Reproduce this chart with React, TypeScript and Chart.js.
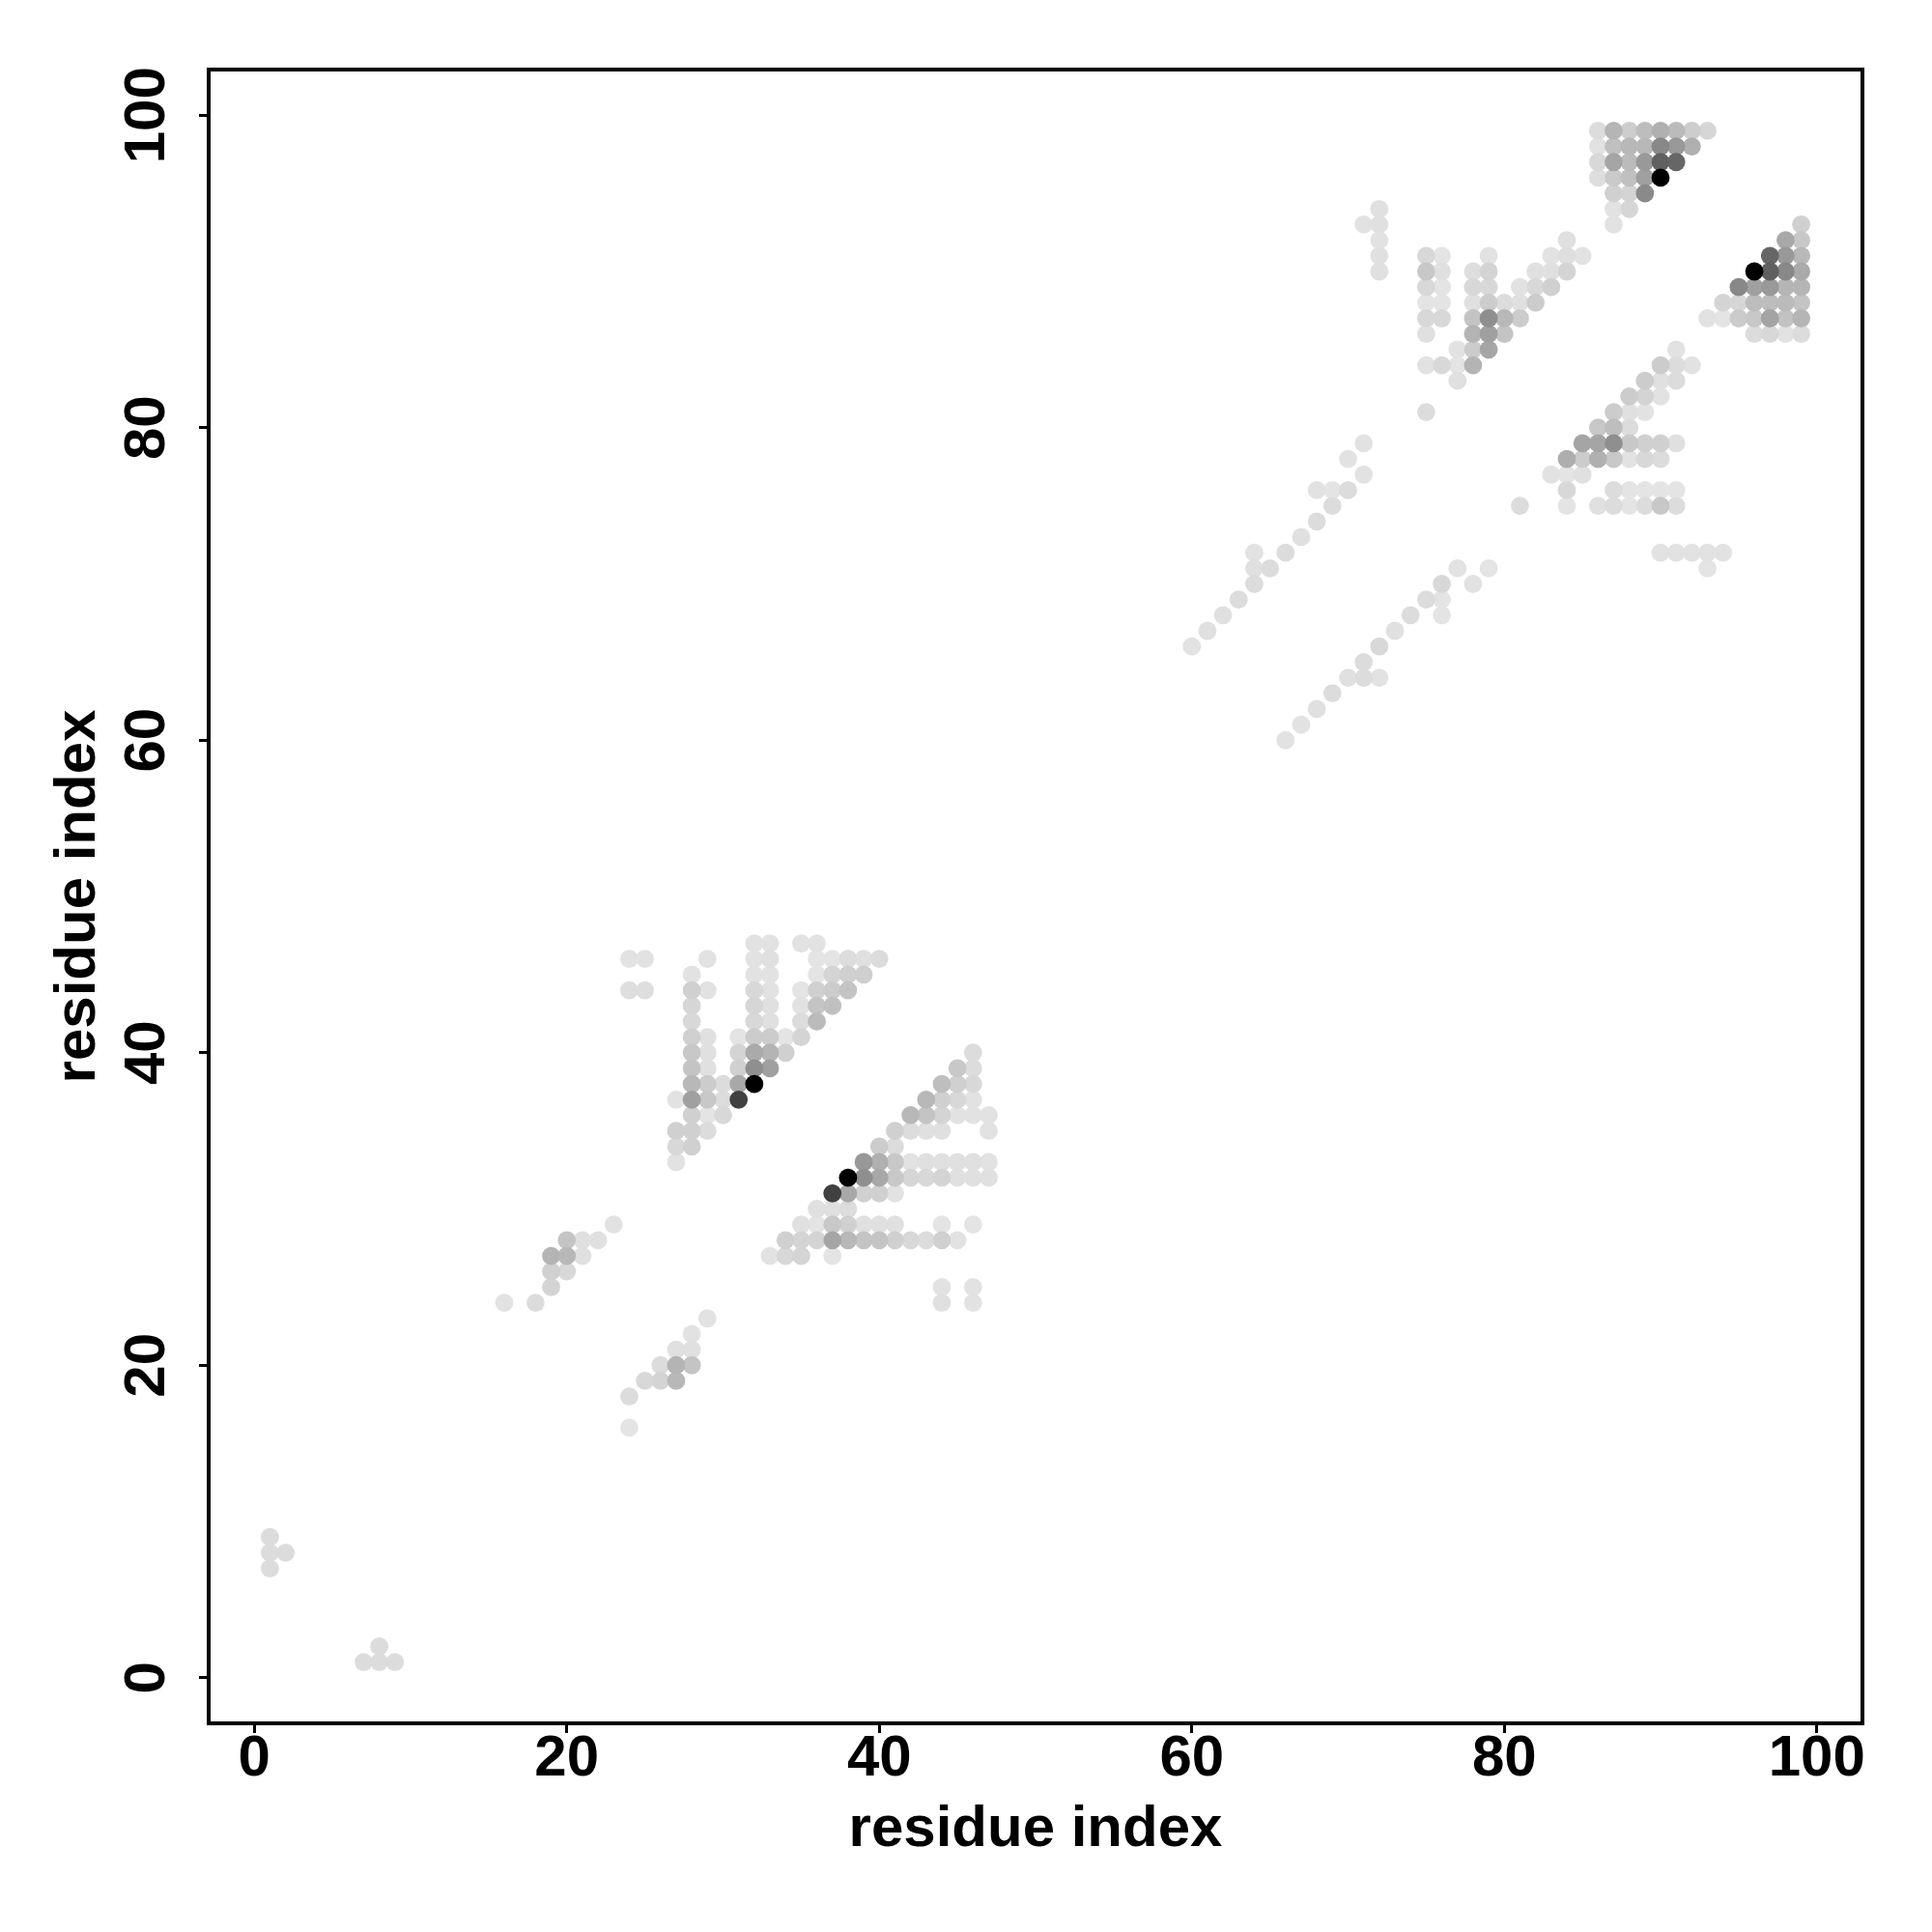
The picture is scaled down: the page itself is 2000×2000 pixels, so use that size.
import React, { useEffect, useRef } from "react";
import { Chart, registerables } from "chart.js";

Chart.register(...registerables);

const xTickValues = [0, 20, 40, 60, 80, 100];
const yTickValues = [0, 20, 40, 60, 80, 100];
const xTitle = "residue index";
const yTitle = "residue index";

// Each cluster: residue x, residue y, gray level of the dot.
const cornerX = [1, 1, 2, 1, 8, 7, 8, 9];
const cornerY = [9, 8, 8, 7, 2, 1, 1, 1];
const cornerG = [0xdc, 0xdc, 0xdc, 0xdc, 0xdc, 0xdc, 0xdc, 0xdc];

const smallUpperX = [23, 20, 21, 22, 19, 20, 21, 19, 20, 19, 16, 18];
const smallUpperY = [29, 28, 28, 28, 27, 27, 27, 26, 26, 25, 24, 24];
const smallUpperG = [0xe2, 0xc4, 0xe0, 0xe0, 0xb4, 0xb8, 0xe0, 0xd0, 0xd8, 0xd4, 0xe2, 0xdc];

const smallLowerX = [29, 28, 27, 28, 26, 27, 28, 25, 26, 27, 24, 24];
const smallLowerY = [23, 22, 21, 21, 20, 20, 20, 19, 19, 19, 18, 16];
const smallLowerG = [0xe2, 0xe2, 0xe0, 0xe0, 0xdc, 0xb4, 0xc4, 0xd8, 0xd4, 0xb8, 0xdc, 0xe4];

const firstUpperX = [
  32, 33, 35, 36,
  24, 25, 29, 32, 33, 36, 37, 38, 39, 40,
  28, 32, 33, 36, 37, 38, 39,
  24, 25, 28, 29, 32, 33, 35, 36, 37, 38,
  28, 32, 33, 35, 36, 37,
  28, 32, 33, 35, 36,
  28, 29, 31, 32, 33, 34, 35,
  28, 29, 31, 32, 33, 34,
  28, 29, 31, 32, 33,
  28, 29, 30, 31, 32,
  27, 28, 29, 30, 31,
  28, 29, 30,
  27, 28, 29,
  27, 28,
  27,
];
const firstUpperY = [
  47, 47, 47, 47,
  46, 46, 46, 46, 46, 46, 46, 46, 46, 46,
  45, 45, 45, 45, 45, 45, 45,
  44, 44, 44, 44, 44, 44, 44, 44, 44, 44,
  43, 43, 43, 43, 43, 43,
  42, 42, 42, 42, 42,
  41, 41, 41, 41, 41, 41, 41,
  40, 40, 40, 40, 40, 40,
  39, 39, 39, 39, 39,
  38, 38, 38, 38, 38,
  37, 37, 37, 37, 37,
  36, 36, 36,
  35, 35, 35,
  34, 34,
  33,
];
const firstUpperG = [
  0xe2, 0xe2, 0xe2, 0xe2,
  0xe2, 0xe2, 0xe2, 0xe2, 0xe0, 0xe4, 0xe4, 0xdc, 0xe0, 0xdc,
  0xe2, 0xe2, 0xe2, 0xe4, 0xd4, 0xd0, 0xcf,
  0xde, 0xde, 0xd0, 0xe2, 0xd8, 0xe2, 0xe4, 0xd0, 0xcc, 0xc4,
  0xd6, 0xd6, 0xe0, 0xe2, 0xc4, 0xc0,
  0xd8, 0xd8, 0xe0, 0xdc, 0xbb,
  0xd0, 0xe0, 0xe4, 0xcc, 0xcc, 0xe4, 0xd4,
  0xc8, 0xe0, 0xd4, 0xaa, 0xb4, 0xd0,
  0xc4, 0xe0, 0xd0, 0x8f, 0xa0,
  0xb8, 0xcc, 0xdc, 0xa8, 0x00,
  0xe2, 0xa0, 0xc8, 0xdc, 0x40,
  0xd0, 0xe4, 0xd8,
  0xd0, 0xd0, 0xdc,
  0xd8, 0xd0,
  0xe2,
];

const firstLowerX = [
  46,
  45, 46,
  44, 45, 46,
  43, 44, 45, 46,
  42, 43, 44, 45, 46, 47,
  41, 42, 43, 44, 47,
  40, 41,
  39, 40, 41, 42, 43, 44, 45, 46, 47,
  38, 39, 40, 41, 42, 43, 44, 45, 46, 47,
  37, 38, 39, 40, 41,
  36, 37, 38,
  35, 36, 37, 38, 39, 40, 41, 44, 46,
  34, 35, 36, 37, 38, 39, 40, 41, 42, 43, 44, 45,
  33, 34, 35, 37,
  44, 46,
  44, 46,
];
const firstLowerY = [
  40,
  39, 39,
  38, 38, 38,
  37, 37, 37, 37,
  36, 36, 36, 36, 36, 36,
  35, 35, 35, 35, 35,
  34, 34,
  33, 33, 33, 33, 33, 33, 33, 33, 33,
  32, 32, 32, 32, 32, 32, 32, 32, 32, 32,
  31, 31, 31, 31, 31,
  30, 30, 30,
  29, 29, 29, 29, 29, 29, 29, 29, 29,
  28, 28, 28, 28, 28, 28, 28, 28, 28, 28, 28, 28,
  27, 27, 27, 27,
  25, 25,
  24, 24,
];
const firstLowerG = [
  0xdc,
  0xc8, 0xdc,
  0xbe, 0xd0, 0xd8,
  0xb8, 0xd0, 0xd8, 0xe2,
  0xb8, 0xc4, 0xd4, 0xe2, 0xe2, 0xe2,
  0xd0, 0xdc, 0xe0, 0xe0, 0xe2,
  0xcc, 0xdc,
  0x99, 0xb0, 0xc8, 0xe2, 0xe0, 0xe0, 0xe0, 0xe0, 0xe2,
  0x00, 0x8f, 0xa8, 0xc8, 0xd6, 0xd8, 0xd4, 0xe0, 0xe0, 0xe0,
  0x40, 0xa8, 0xd0, 0xd0, 0xe2,
  0xe0, 0xe0, 0xdc,
  0xe0, 0xe4, 0xc8, 0xd0, 0xe0, 0xe0, 0xe0, 0xe4, 0xe4,
  0xd0, 0xd4, 0xd4, 0xa5, 0xb8, 0xc4, 0xc4, 0xd0, 0xd8, 0xdc, 0xd0, 0xe2,
  0xe2, 0xd8, 0xd4, 0xe4,
  0xe2, 0xe2,
  0xe0, 0xe2,
];

const diagUpperX = [71, 70, 71, 68, 69, 70, 69, 68, 67, 66, 64, 64, 65, 64, 63, 62, 61, 60];
const diagUpperY = [79, 78, 77, 76, 76, 76, 75, 74, 73, 72, 72, 71, 71, 70, 69, 68, 67, 66];
const diagUpperG = [0xe2, 0xe2, 0xe2, 0xe2, 0xe4, 0xdc, 0xdc, 0xdc, 0xe0, 0xdc, 0xe2, 0xe0, 0xdc, 0xdc, 0xdc, 0xe0, 0xe0, 0xe2];

const diagLowerX = [77, 79, 76, 78, 75, 76, 74, 76, 73, 72, 71, 70, 71, 72, 69, 68, 67, 66];
const diagLowerY = [71, 71, 70, 70, 69, 69, 68, 68, 67, 66, 65, 64, 64, 64, 63, 62, 61, 60];
const diagLowerG = [0xe2, 0xe4, 0xd8, 0xe2, 0xdc, 0xe4, 0xdc, 0xe4, 0xe0, 0xd8, 0xdc, 0xe0, 0xdc, 0xe2, 0xdc, 0xe0, 0xe2, 0xe2];

const secondUpperX = [
  72,
  71, 72,
  72,
  72, 75, 76, 79, 83, 84, 85,
  72, 75, 76, 78, 79, 82, 83, 84,
  75, 76, 78, 79, 81, 82, 83,
  75, 76, 78, 79, 80, 81, 82,
  75, 76, 78, 79, 80, 81,
  75, 78, 79, 80,
  77, 78, 79,
  75, 76, 77, 78,
  77,
  75,
  84,
];
const secondUpperY = [
  94,
  93, 93,
  92,
  91, 91, 91, 91, 91, 91, 91,
  90, 90, 90, 90, 90, 90, 90, 90,
  89, 89, 89, 89, 89, 89, 89,
  88, 88, 88, 88, 88, 88, 88,
  87, 87, 87, 87, 87, 87,
  86, 86, 86, 86,
  85, 85, 85,
  84, 84, 84, 84,
  83,
  81,
  92,
];
const secondUpperG = [
  0xe0,
  0xe2, 0xe0,
  0xe2,
  0xe0, 0xd8, 0xe4, 0xe2, 0xe2, 0xde, 0xe2,
  0xe0, 0xc8, 0xe0, 0xde, 0xd4, 0xe0, 0xe0, 0xd4,
  0xd8, 0xe4, 0xd8, 0xd8, 0xe2, 0xd8, 0xd0,
  0xe4, 0xe4, 0xe0, 0xcc, 0xdc, 0xe0, 0xcc,
  0xd8, 0xd8, 0xc4, 0x8f, 0xb8, 0xcc,
  0xe0, 0xb4, 0xa0, 0xc4,
  0xe2, 0xcc, 0xa5,
  0xe2, 0xd8, 0xe4, 0xb4,
  0xe0,
  0xdc,
  0xe0,
];

const secondLowerX = [
  91,
  90, 91, 92,
  89, 90, 91,
  88, 89, 90,
  87, 88, 89,
  86, 87, 88,
  85, 86, 87, 88, 89, 90, 91,
  84, 85, 86, 87, 88, 89, 90,
  83, 84, 85,
  84, 87, 88, 89, 90, 91,
  81, 84, 86, 87, 88, 89, 90, 91,
  90, 91, 92, 93, 94,
  93,
];
const secondLowerY = [
  85,
  84, 84, 84,
  83, 83, 83,
  82, 82, 82,
  81, 81, 81,
  80, 80, 80,
  79, 79, 79, 79, 79, 79, 79,
  78, 78, 78, 78, 78, 78, 78,
  77, 77, 77,
  76, 76, 76, 76, 76, 76,
  75, 75, 75, 75, 75, 75, 75, 75,
  72, 72, 72, 72, 72,
  71,
];
const secondLowerG = [
  0xe2,
  0xcc, 0xdc, 0xe2,
  0xcc, 0xe0, 0xdc,
  0xcc, 0xd4, 0xe2,
  0xcc, 0xe0, 0xe2,
  0xc8, 0xbe, 0xdc,
  0xa5, 0xa5, 0x8f, 0xc8, 0xd0, 0xd0, 0xe0,
  0xae, 0xcc, 0xb0, 0xc8, 0xe2, 0xd8, 0xdc,
  0xe2, 0xe4, 0xe0,
  0xd8, 0xdc, 0xe4, 0xe4, 0xe4, 0xe4,
  0xdc, 0xe4, 0xe0, 0xdc, 0xe4, 0xdc, 0xc8, 0xdc,
  0xe2, 0xe2, 0xe2, 0xe2, 0xe2,
  0xe4,
];

const peakUpperX = [
  86, 87, 88, 89, 90, 91, 92, 93,
  86, 87, 88, 89, 90, 91, 92,
  86, 87, 88, 89, 90, 91,
  86, 87, 88, 89, 90,
  87, 88, 89,
  87, 88,
  87,
];
const peakUpperY = [
  99, 99, 99, 99, 99, 99, 99, 99,
  98, 98, 98, 98, 98, 98, 98,
  97, 97, 97, 97, 97, 97,
  96, 96, 96, 96, 96,
  95, 95, 95,
  94, 94,
  93,
];
const peakUpperG = [
  0xdc, 0xb5, 0xcd, 0xbd, 0xb0, 0xbb, 0xcd, 0xd6,
  0xe2, 0xc0, 0xb8, 0xb8, 0x88, 0x99, 0xb0,
  0xd8, 0xa5, 0xbb, 0x99, 0x60, 0x66,
  0xde, 0xca, 0xc0, 0xa0, 0x00,
  0xd0, 0xd4, 0x8a,
  0xe2, 0xd6,
  0xe2,
];

const peakLowerX = [
  99,
  98, 99,
  97, 98, 99,
  96, 97, 98, 99,
  95, 96, 97, 98, 99,
  94, 95, 96, 97, 98, 99,
  93, 94, 95, 96, 97, 98, 99,
  96, 97, 98, 99,
];
const peakLowerY = [
  93,
  92, 92,
  91, 91, 91,
  90, 90, 90, 90,
  89, 89, 89, 89, 89,
  88, 88, 88, 88, 88, 88,
  87, 87, 87, 87, 87, 87, 87,
  86, 86, 86, 86,
];
const peakLowerG = [
  0xd0,
  0xa8, 0xc8,
  0x66, 0x99, 0xb8,
  0x00, 0x60, 0x88, 0xaa,
  0x88, 0xa0, 0x99, 0xb5, 0xb5,
  0xd4, 0xd6, 0xbd, 0xbd, 0xbb, 0xc4,
  0xe2, 0xe4, 0xcb, 0xc8, 0xa4, 0xc2, 0xb5,
  0xdc, 0xd8, 0xe2, 0xdc,
];

const clusters = [
  [cornerX, cornerY, cornerG],
  [smallUpperX, smallUpperY, smallUpperG],
  [smallLowerX, smallLowerY, smallLowerG],
  [firstUpperX, firstUpperY, firstUpperG],
  [firstLowerX, firstLowerY, firstLowerG],
  [diagUpperX, diagUpperY, diagUpperG],
  [diagLowerX, diagLowerY, diagLowerG],
  [secondUpperX, secondUpperY, secondUpperG],
  [secondLowerX, secondLowerY, secondLowerG],
  [peakUpperX, peakUpperY, peakUpperG],
  [peakLowerX, peakLowerY, peakLowerG],
];

// Light dots first, so the darkest contacts stay round on top.
const points = clusters
  .flatMap(([xs, ys, gs]) => xs.map((x, i) => ({ x, y: ys[i], g: gs[i] })))
  .sort((a, b) => b.g - a.g);

const FONT = "'Liberation Sans', Arial, Helvetica, sans-serif";

const boxPlugin = {
  id: "box",
  afterDatasetsDraw(chart: any) {
    const { ctx, chartArea: a } = chart;
    ctx.save();
    ctx.strokeStyle = "#000";
    ctx.lineWidth = 4;
    ctx.strokeRect(a.left, a.top, a.right - a.left, a.bottom - a.top);
    ctx.restore();
  },
};

export default function App() {
  const ref = useRef<HTMLCanvasElement>(null);
  useEffect(() => {
    document.body.style.margin = "0";
    document.body.style.background = "#fff";
    const chart = new Chart(ref.current!, {
      type: "scatter",
      data: {
        datasets: [
          {
            data: points.map(({ x, y }) => ({ x, y })),
            pointRadius: 9.4,
            pointBorderWidth: 0,
            pointBackgroundColor: points.map(({ g }) => `rgb(${g},${g},${g})`),
          },
        ],
      },
      options: {
        animation: false,
        responsive: false,
        devicePixelRatio: 1,
        layout: { padding: { top: 72, right: 72, left: 0, bottom: 0 } },
        plugins: { legend: { display: false }, tooltip: { enabled: false } },
        scales: {
          x: {
            type: "linear",
            min: -2.92,
            max: 102.92,
            afterFit: (s: any) => {
              s.height = 216;
            },
            afterBuildTicks: (s: any) => {
              s.ticks = xTickValues.map((value) => ({ value }));
            },
            grid: { drawOnChartArea: false, drawTicks: true, tickLength: 10, tickWidth: 3, tickColor: "#000" },
            border: { display: true, color: "#000", width: 4 },
            ticks: {
              autoSkip: false,
              maxRotation: 0,
              minRotation: 0,
              padding: -9,
              color: "#000",
              font: { family: FONT, size: 60, weight: "bold" },
            },
            title: {
              display: true,
              text: xTitle,
              color: "#000",
              font: { family: FONT, size: 60, weight: "bold" },
              padding: { top: 0, bottom: 70 },
            },
          },
          y: {
            type: "linear",
            min: -2.92,
            max: 102.92,
            afterFit: (s: any) => {
              s.width = 216;
            },
            afterBuildTicks: (s: any) => {
              s.ticks = yTickValues.map((value) => ({ value }));
            },
            grid: { drawOnChartArea: false, drawTicks: true, tickLength: 10, tickWidth: 3, tickColor: "#000" },
            border: { display: true, color: "#000", width: 4 },
            ticks: {
              autoSkip: false,
              minRotation: 90,
              maxRotation: 90,
              crossAlign: "center",
              padding: 2,
              color: "#000",
              font: { family: FONT, size: 60, weight: "bold" },
            },
            title: {
              display: true,
              text: yTitle,
              color: "#000",
              font: { family: FONT, size: 60, weight: "bold" },
              padding: { top: 45, bottom: 0 },
            },
          },
        },
      },
      plugins: [boxPlugin],
    } as any);
    return () => chart.destroy();
  }, []);
  return <canvas ref={ref} width={2000} height={2000} style={{ display: "block" }} />;
}
